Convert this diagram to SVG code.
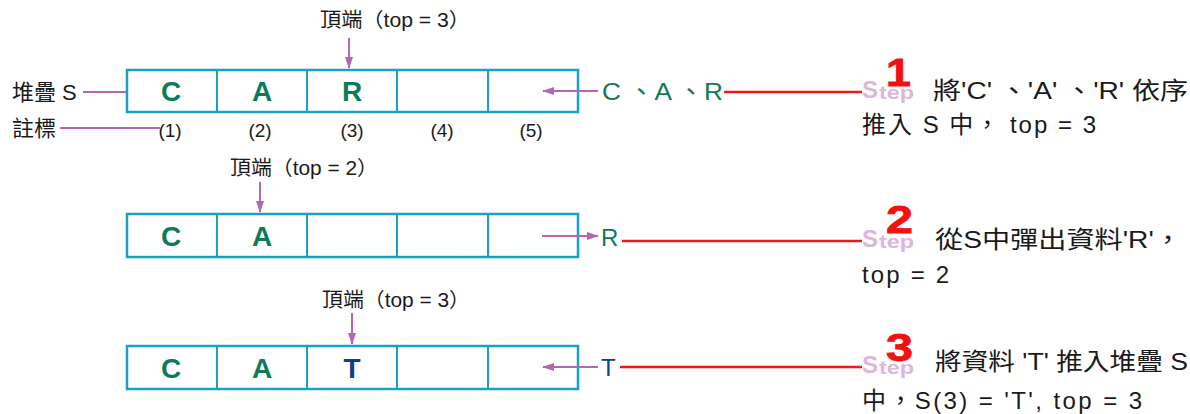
<svg xmlns="http://www.w3.org/2000/svg" width="1190" height="414" viewBox="0 0 1190 414">
<style>
.box{fill:#fff;stroke:#16a2c4;stroke-width:2.5}
.cell{fill:none;stroke:#16a2c4;stroke-width:2}
.big{font-family:"Liberation Sans",Arial,sans-serif;font-weight:bold;font-size:28px;text-anchor:middle}
.g{fill:#0d7a58}
.b{fill:#0e3f8a}
.t{font-family:"Liberation Sans","Noto Sans CJK TC",sans-serif;fill:#1a1a1a}
.lbl{font-size:20px}
.idx{font-size:19px;text-anchor:middle}
.desc{font-size:24px}
.pl{stroke:#b565b8;stroke-width:2;fill:none}
.rl{stroke:#f01818;stroke-width:2.5;fill:none}
.sS{font-family:"Liberation Sans",Arial,sans-serif;font-weight:bold;fill:#dbb6dd}
.num{font-family:"Liberation Sans",Arial,sans-serif;font-weight:bold;font-size:38px;fill:#f21010;stroke:#f21010;stroke-width:0.8}
</style>
<defs>
<marker id="ah" markerWidth="12" markerHeight="8" refX="11" refY="4" orient="auto" markerUnits="userSpaceOnUse">
<path d="M0,0 L12,4 L0,8 Z" fill="#b565b8"/>
</marker>
</defs>

<g id="labels-left">
<text class="t" x="12" y="100" font-size="22">堆疊 S</text>
<text class="t" x="12" y="136" font-size="22">註標</text>
</g>

<g id="stack1">
<rect class="box" x="127" y="70" width="451" height="42"/>
<line class="cell" x1="217" y1="70" x2="217" y2="112"/>
<line class="cell" x1="307" y1="70" x2="307" y2="112"/>
<line class="cell" x1="397" y1="70" x2="397" y2="112"/>
<line class="cell" x1="488" y1="70" x2="488" y2="112"/>
<text class="big g" x="171" y="101">C</text>
<text class="big g" x="262" y="101">A</text>
<text class="big g" x="352" y="101">R</text>
<text class="t lbl" x="320" y="27" textLength="150" lengthAdjust="spacingAndGlyphs">頂端（top = 3）</text>
<text class="t idx" x="170" y="137">(1)</text>
<text class="t idx" x="260" y="137">(2)</text>
<text class="t idx" x="352" y="137">(3)</text>
<text class="t idx" x="442" y="137">(4)</text>
<text class="t idx" x="531" y="137">(5)</text>
<text x="602" y="100" font-family="Liberation Sans,Noto Sans CJK TC,sans-serif" font-size="24" class="g" textLength="121" lengthAdjust="spacingAndGlyphs">C 、A 、R</text>
</g>

<g id="stack2">
<rect class="box" x="127" y="214" width="451" height="43"/>
<line class="cell" x1="217" y1="214" x2="217" y2="257"/>
<line class="cell" x1="307" y1="214" x2="307" y2="257"/>
<line class="cell" x1="397" y1="214" x2="397" y2="257"/>
<line class="cell" x1="488" y1="214" x2="488" y2="257"/>
<text class="big g" x="171" y="246">C</text>
<text class="big g" x="262" y="246">A</text>
<text class="t lbl" x="230" y="175" textLength="148" lengthAdjust="spacingAndGlyphs">頂端（top = 2）</text>
<text x="601" y="246" font-family="Liberation Sans,sans-serif" font-size="24" class="g">R</text>
</g>

<g id="stack3">
<rect class="box" x="127" y="346" width="451" height="43"/>
<line class="cell" x1="217" y1="346" x2="217" y2="389"/>
<line class="cell" x1="307" y1="346" x2="307" y2="389"/>
<line class="cell" x1="397" y1="346" x2="397" y2="389"/>
<line class="cell" x1="488" y1="346" x2="488" y2="389"/>
<text class="big g" x="171" y="378">C</text>
<text class="big g" x="262" y="378">A</text>
<text class="big b" x="352" y="378">T</text>
<text class="t lbl" x="322" y="307" textLength="148" lengthAdjust="spacingAndGlyphs">頂端（top = 3）</text>
<text x="601" y="376" font-family="Liberation Sans,sans-serif" font-size="24" class="b">T</text>
</g>

<g id="connectors">
<line class="pl" x1="83" y1="92" x2="126" y2="92"/>
<line class="pl" x1="60" y1="128" x2="160" y2="128"/>
<line class="pl" x1="349" y1="38" x2="349" y2="68" marker-end="url(#ah)"/>
<line class="pl" x1="598" y1="91" x2="543" y2="91" marker-end="url(#ah)"/>
<line class="rl" x1="724" y1="92" x2="862" y2="92"/>
<line class="pl" x1="260" y1="182" x2="260" y2="212" marker-end="url(#ah)"/>
<line class="pl" x1="542" y1="236" x2="598" y2="236" marker-end="url(#ah)"/>
<line class="rl" x1="622" y1="241" x2="862" y2="241"/>
<line class="pl" x1="352" y1="313" x2="352" y2="344" marker-end="url(#ah)"/>
<line class="pl" x1="598" y1="367" x2="543" y2="367" marker-end="url(#ah)"/>
<line class="rl" x1="620" y1="367" x2="862" y2="367"/>
</g>

<g id="step1">
<text class="num" x="886" y="86" textLength="25" lengthAdjust="spacingAndGlyphs">1</text>
<text class="sS" x="862" y="98" font-size="24">S</text>
<text class="sS" x="879" y="99" font-size="19" textLength="35" lengthAdjust="spacingAndGlyphs">tep</text>
<text class="t desc" x="933" y="99" textLength="255" lengthAdjust="spacingAndGlyphs">將'C' 、'A' 、'R' 依序</text>
<text class="t desc" x="862" y="133" textLength="234" lengthAdjust="spacing">推入 S 中， top = 3</text>
</g>

<g id="step2">
<text class="num" x="886" y="233" textLength="27" lengthAdjust="spacingAndGlyphs">2</text>
<text class="sS" x="862" y="247" font-size="24">S</text>
<text class="sS" x="879" y="248" font-size="19" textLength="35" lengthAdjust="spacingAndGlyphs">tep</text>
<text class="t desc" x="935" y="248" textLength="247" lengthAdjust="spacingAndGlyphs">從S中彈出資料'R'，</text>
<text class="t desc" x="862" y="283" textLength="87" lengthAdjust="spacing">top = 2</text>
</g>

<g id="step3">
<text class="num" x="886" y="361" textLength="27" lengthAdjust="spacingAndGlyphs">3</text>
<text class="sS" x="862" y="373" font-size="24">S</text>
<text class="sS" x="879" y="374" font-size="19" textLength="35" lengthAdjust="spacingAndGlyphs">tep</text>
<text class="t desc" x="935" y="370" textLength="253" lengthAdjust="spacingAndGlyphs">將資料 'T' 推入堆疊 S</text>
<text class="t desc" x="862" y="409" textLength="280" lengthAdjust="spacing">中，S(3) = 'T', top = 3</text>
</g>
</svg>
